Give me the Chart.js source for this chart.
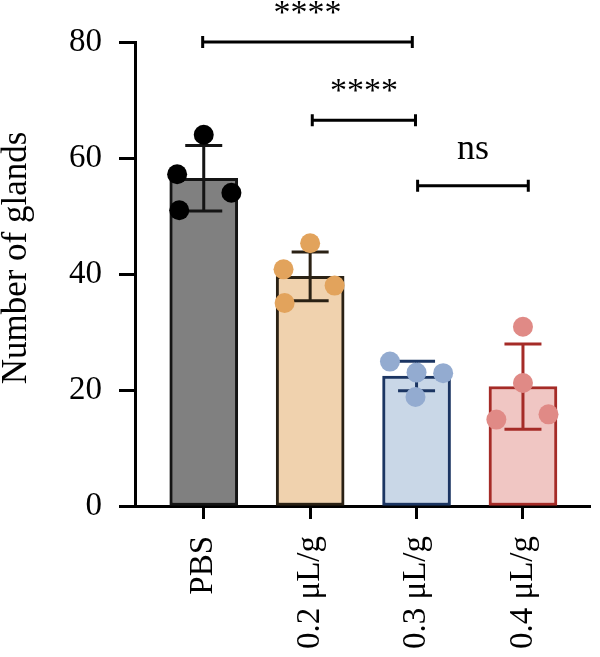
<!DOCTYPE html>
<html>
<head>
<meta charset="utf-8">
<script src="https://cdn.jsdelivr.net/npm/chart.js@4/dist/chart.umd.min.js"></script>
<style>
  body { margin: 0; background: #fff; }
  #wrap { width: 600px; height: 657px; position: relative; }
</style>
</head>
<body>
<div id="wrap"><canvas id="glands"></canvas></div>
<script>
// Data
const groups = ['PBS', '0.2 μL/g', '0.3 μL/g', '0.4 μL/g'];
const means = [56.5, 39.6, 22.4, 20.6];
const sds = [5.65, 4.2, 2.55, 7.35];
const pbsDots = [64.0, 57.2, 51.0, 54.0];
const dose02Dots = [45.3, 40.8, 35.0, 38.0];
const dose03Dots = [24.9, 23.0, 18.8, 22.9];
const dose04Dots = [30.9, 21.2, 14.9, 15.8];
const dotJitter = [
    [0, -0.25, -0.23, 0.26],
    [0, -0.25, -0.24, 0.23],
    [-0.25, 0, -0.01, 0.25],
    [0, 0, -0.25, 0.24]
];
const comparisons = [
    { from: -0.01, to: 1.96, y: 80, label: '****' },
    { from: 1.02, to: 1.99, y: 66.5, label: '****' },
    { from: 2.01, to: 3.05, y: 55.2, label: 'ns' }
];
const yTitle = 'Number of glands';

const FONT = "'Liberation Serif', 'Times New Roman', serif";
const fills = ['#808080', '#f0d2ae', '#c9d7e7', '#f0c6c3'];
const edges = ['#141414', '#2a2114', '#1b3562', '#a52b27'];
const dotColors = ['#000000', '#e2a35c', '#93abd0', '#e08a86'];

const allDots = [pbsDots, dose02Dots, dose03Dots, dose04Dots];
const scatterData = [];
const scatterColors = [];
allDots.forEach((arr, i) => {
    arr.forEach((v, j) => {
        scatterData.push({ x: i + dotJitter[i][j], y: v });
        scatterColors.push(dotColors[i]);
    });
});

// SD whiskers, drawn right after the bars so the dots sit on top
const errorBars = {
    id: 'errorBars',
    afterDatasetDraw(chart, args) {
        if (args.index !== 0) return;
        const { ctx, scales: { x, y } } = chart;
        ctx.save();
        ctx.lineWidth = 3;
        means.forEach((m, i) => {
            const cx = x.getPixelForValue(i);
            const top = y.getPixelForValue(m + sds[i]);
            const bot = y.getPixelForValue(m - sds[i]);
            ctx.strokeStyle = edges[i];
            ctx.beginPath();
            ctx.moveTo(cx, top); ctx.lineTo(cx, bot);
            ctx.moveTo(cx - 18.5, top); ctx.lineTo(cx + 18.5, top);
            ctx.moveTo(cx - 18.5, bot); ctx.lineTo(cx + 18.5, bot);
            ctx.stroke();
        });
        ctx.restore();
    }
};

// significance brackets + axis title (title sits a bit above the plot centre)
const annotations = {
    id: 'annotations',
    afterDraw(chart) {
        const { ctx, scales: { x, y } } = chart;
        ctx.save();
        ctx.strokeStyle = '#000';
        ctx.fillStyle = '#000';
        ctx.lineWidth = 3;
        comparisons.forEach(c => {
            const x1 = x.getPixelForValue(c.from);
            const x2 = x.getPixelForValue(c.to);
            const py = y.getPixelForValue(c.y);
            ctx.beginPath();
            ctx.moveTo(x1, py); ctx.lineTo(x2, py);
            ctx.moveTo(x1, py - 6); ctx.lineTo(x1, py + 6);
            ctx.moveTo(x2, py - 6); ctx.lineTo(x2, py + 6);
            ctx.stroke();
            const stars = c.label.startsWith('*');
            ctx.font = (stars ? '34px ' : '36px ') + FONT;
            ctx.textAlign = 'center';
            ctx.textBaseline = 'alphabetic';
            ctx.fillText(c.label, (x1 + x2) / 2, py - (stars ? 19 : 27));
        });

        ctx.translate(17, (y.top + y.bottom) / 2 - 16);
        ctx.rotate(-Math.PI / 2);
        ctx.font = '35px ' + FONT;
        ctx.textAlign = 'center';
        ctx.textBaseline = 'middle';
        ctx.fillText(yTitle, 0, 0);
        ctx.restore();
    }
};

new Chart(document.getElementById('glands'), {
    data: {
        datasets: [{
            type: 'bar',
            data: means.map((m, i) => ({ x: i, y: m })),
            backgroundColor: fills,
            borderColor: edges,
            borderWidth: 3,
            borderSkipped: false,
            barThickness: 68,
            order: 2
        }, {
            type: 'scatter',
            data: scatterData,
            pointBackgroundColor: scatterColors,
            pointBorderWidth: 0,
            pointRadius: 10,
            order: 1
        }]
    },
    options: {
        responsive: true,
        maintainAspectRatio: false,
        animation: false,
        layout: { padding: { top: 42, right: 0, left: 0, bottom: 0 } },
        plugins: { legend: { display: false }, tooltip: { enabled: false } },
        scales: {
            x: {
                type: 'linear',
                min: -0.646,
                max: 3.63,
                offset: false,
                afterBuildTicks: s => { s.ticks = groups.map((g, i) => ({ value: i })); },
                afterFit: s => { s.height = 151; },
                grid: { offset: false, drawOnChartArea: false, tickLength: 13, tickWidth: 3, tickColor: '#000' },
                border: { color: '#000', width: 3 },
                ticks: {
                    autoSkip: false,
                    minRotation: 90,
                    maxRotation: 90,
                    padding: 17,
                    color: '#000',
                    font: { family: FONT, size: 33 },
                    callback: v => groups[v]
                }
            },
            y: {
                min: 0,
                max: 80,
                afterFit: s => { s.width = 135; },
                grid: { drawOnChartArea: false, tickLength: 16, tickWidth: 3, tickColor: '#000' },
                border: { color: '#000', width: 3 },
                ticks: { stepSize: 20, padding: 17, color: '#000', font: { family: FONT, size: 33 } }
            }
        }
    },
    plugins: [errorBars, annotations]
});
</script>
</body>
</html>
